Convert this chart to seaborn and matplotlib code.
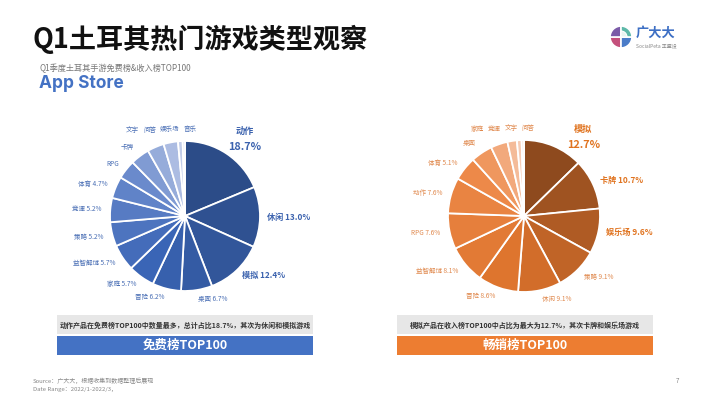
import matplotlib
matplotlib.use("Agg")
import matplotlib.pyplot as plt
import numpy as np
import seaborn as sns
from matplotlib.patches import Rectangle, Wedge

sns.set_theme(style="white")
plt.rcParams["font.family"] = ["Noto Sans CJK SC", "DejaVu Sans"]

# 免费榜 TOP100 类型占比 (%)
free_genres = ["动作", "休闲", "模拟", "桌面", "冒险", "家庭", "益智解谜", "策略",
               "竞速", "体育", "RPG", "卡牌", "文字", "问答", "娱乐场", "音乐"]
free_share = [18.7, 13.0, 12.4, 6.7, 6.2, 5.7, 5.7, 5.2, 5.2, 4.7, 4.1, 4.1, 3.6, 3.1, 1.0, 0.5]

# 畅销榜 TOP100 类型占比 (%)
paid_genres = ["模拟", "卡牌", "娱乐场", "策略", "休闲", "冒险", "益智解谜", "RPG",
               "动作", "体育", "桌面", "家庭", "竞速", "文字", "问答"]
paid_share = [12.7, 10.7, 9.6, 9.1, 9.1, 8.6, 8.1, 7.6, 7.6, 5.1, 4.6, 3.6, 2.0, 1.0, 0.5]

n_labeled = 10  # 只标注前10个的百分比
n_bold = 3

W, H = 710, 399
fig = plt.figure(figsize=(W / 100, H / 100), dpi=100)
bg = fig.add_axes([0, 0, 1, 1])
bg.set_xlim(0, W)
bg.set_ylim(H, 0)
bg.axis("off")

latin = ["Inter", "Noto Sans CJK SC"]

# 标题
bg.text(32, 39, "Q1土耳其热门游戏类型观察", fontsize=19.5, fontweight="heavy",
        color="#111111", va="center", ha="left")
bg.text(40, 68, "Q1季度土耳其手游免费榜&收入榜TOP100", fontsize=5.9,
        color="#777777", va="center", ha="left")
bg.text(39, 84, "App Store", fontsize=12.5, fontweight="bold", color="#4472C4",
        va="center", ha="left", family=latin)

# logo
for t1, t2, c in [(90, 180, "#C4507C"), (180, 270, "#7B5BA8"),
                  (0, 90, "#4A7CC8"), (270, 360, "#5DB8A8")]:
    bg.add_patch(Wedge((621, 37), 11, t1, t2, facecolor=c, edgecolor="white", lw=1.2))
bg.add_patch(Wedge((621, 37), 6, 270, 360, facecolor="#E8F4F0", edgecolor="white", lw=0.8))
bg.text(636, 33, "广大大", fontsize=9.5, fontweight="bold", color="#3D6FC4",
        va="center", ha="left")
bg.text(636, 46, "SocialPeta 丰盛设", fontsize=3.6, color="#888888",
        va="center", ha="left")


def spread_labels(texts, r_px, pad=4, rounds=80):
    # 顶部小标签水平挤开，右边的基本不动，往左推
    fig.canvas.draw()
    rend = fig.canvas.get_renderer()
    for _ in range(rounds):
        moved = False
        for a, b in zip(texts[:-1], texts[1:]):
            ba = a.get_window_extent(rend)
            bb = b.get_window_extent(rend)
            if ba.y1 < bb.y0 or bb.y1 < ba.y0:
                continue
            ov = ba.x0 - bb.x1 - pad
            if ov < 0:
                s = -ov / r_px
                xa, ya = a.get_position()
                xb, yb = b.get_position()
                a.set_position((xa + 0.25 * s, ya))
                b.set_position((xb - 0.75 * s, yb))
                moved = True
        if not moved:
            break


def draw_pie(cx, cy, r, values, labels, colors, txt_small, txt_big):
    s = 1.7
    ax = fig.add_axes([(cx - s * r) / W, 1 - (cy + s * r) / H, 2 * s * r / W, 2 * s * r / H])
    wedges, _ = ax.pie(values, colors=colors, startangle=90, counterclock=False,
                       wedgeprops=dict(edgecolor="white", linewidth=1.3))
    ax.set_xlim(-s, s)
    ax.set_ylim(-s, s)
    ax.set_aspect("equal")
    ax.axis("off")
    top = []
    for i, (w, lab, v) in enumerate(zip(wedges, labels, values)):
        ang = np.deg2rad((w.theta1 + w.theta2) / 2)
        x, y = np.cos(ang), np.sin(ang)
        if i == 0:
            lx = max(1.22 * x + 0.12, 0.78)
            ly = min(1.22 * y + 0.12, 1.14)
            ax.text(lx, ly, lab, fontsize=6.6, fontweight="bold",
                    color=txt_big, ha="center", va="center")
            ax.text(lx, ly - 0.21, f"{v:.1f}%", fontsize=7.8, fontweight="bold",
                    color=txt_big, ha="center", va="center")
            continue
        text = f"{lab} {v:.1f}%" if i < n_labeled else lab
        if i < n_bold:
            ax.text(1.1 * x, 1.1 * y, text, fontsize=5.9, fontweight="bold",
                    color=txt_big, ha="left" if x > 0 else "right", va="center")
        elif y > 0.85:
            t = ax.text(1.12 * x, max(1.16 * y, 1.15), text, fontsize=4.7,
                        color=txt_small, ha="center", va="center")
            top.append(t)
        else:
            d = 1.12 if y < 0.7 else 1.15
            ax.text(d * x, d * y, text, fontsize=4.7, color=txt_small,
                    ha="left" if x > 0 else "right", va="center")
    spread_labels(top[::-1], r)


blues = sns.blend_palette(["#2C4C88", "#3A65B6", "#6A8ACC", "#D8DEF0"], len(free_share))
oranges = sns.blend_palette(["#8E4A1E", "#DD732C", "#EE8B4B", "#F8DED2"], len(paid_share))

draw_pie(185, 216, 75, free_share, free_genres, blues, "#4A6FB5", "#3B62AE")
draw_pie(524, 216, 76, paid_share, paid_genres, oranges, "#E0894E", "#E0731F")

# 底部说明框
for x0, note, bar, col in [
    (57, "动作产品在免费榜TOP100中数量最多，总计占比18.7%，其次为休闲和模拟游戏", "免费榜TOP100", "#4472C4"),
    (397, "模拟产品在收入榜TOP100中占比为最大为12.7%，其次卡牌和娱乐场游戏", "畅销榜TOP100", "#ED7D31"),
]:
    bg.add_patch(Rectangle((x0, 315), 256, 19, facecolor="#E7E7E7", edgecolor="none"))
    bg.add_patch(Rectangle((x0, 336), 256, 19, facecolor=col, edgecolor="none"))
    bg.text(x0 + 128, 325, note, fontsize=5, fontweight="bold", color="#333333",
            ha="center", va="center")
    bg.text(x0 + 128, 345.5, bar, fontsize=9, fontweight="bold", color="white",
            ha="center", va="center")

bg.text(33, 381, "Source：广大大，根据收集到数据整理后展现", fontsize=4.3, color="#888888",
        ha="left", va="center")
bg.text(33, 389, "Date Range：2022/1-2022/3，", fontsize=4.3, color="#888888",
        ha="left", va="center")
bg.text(677, 381, "7", fontsize=4.5, color="#888888", ha="center", va="center")

fig.savefig("out.png", dpi=100)
